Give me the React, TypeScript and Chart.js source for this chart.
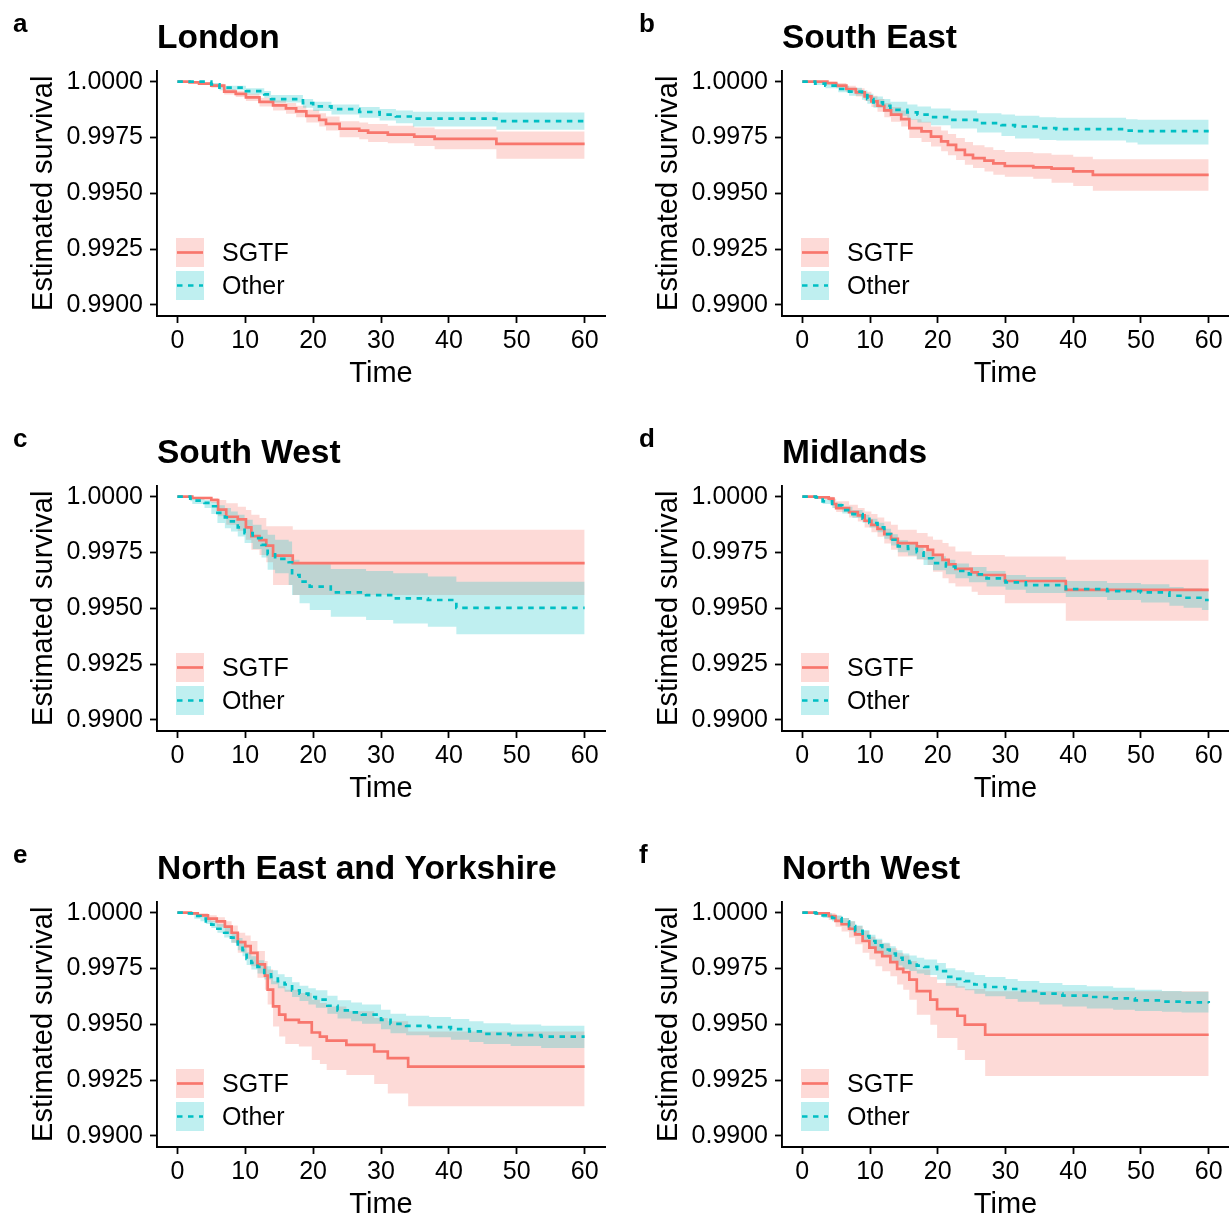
import React, { useEffect, useRef } from "react";
import { Chart, registerables } from "chart.js";

Chart.register(...registerables);

const FONT = '"Liberation Sans", Arial, Helvetica, sans-serif';
const RED = "#F8766D";
const CYAN = "#00BFC4";
const RED_FILL = "rgba(248,118,109,0.27)";
const CYAN_FILL = "rgba(0,191,196,0.25)";

const X_TICKS = [0, 10, 20, 30, 40, 50, 60];
const Y_TICKS = [0.99, 0.9925, 0.995, 0.9975, 1.0];
const GROUPS = ["SGTF", "Other"];
const PANEL_TITLES = ["London", "South East", "South West", "Midlands", "North East and Yorkshire", "North West"];
const PANEL_LETTERS = ["a", "b", "c", "d", "e", "f"];
const X_TITLE = "Time";
const Y_TITLE = "Estimated survival";

// a: London
const A_SGTF_T = [0, 1.8, 3.2, 5.0, 6.9, 8.6, 10.1, 12.1, 14.1, 16.0, 17.5, 19.0, 20.9, 21.9, 23.9, 26.8, 28.1, 31.0, 34.9, 37.9, 47.0, 60];
const A_SGTF_S = [1, 0.99997, 0.99991, 0.99982, 0.99955, 0.99945, 0.9993, 0.99909, 0.99894, 0.9988, 0.99867, 0.99847, 0.99829, 0.99811, 0.99789, 0.99781, 0.99772, 0.99763, 0.99754, 0.99744, 0.99721, 0.99721];
const A_SGTF_HI = [1, 1, 0.99997, 0.99991, 0.99967, 0.99958, 0.99946, 0.99928, 0.99916, 0.99904, 0.99892, 0.99874, 0.99859, 0.99844, 0.99823, 0.99817, 0.9981, 0.99802, 0.99795, 0.99787, 0.99777, 0.99777];
const A_SGTF_LO = [1, 0.99994, 0.99985, 0.99973, 0.99943, 0.99931, 0.99913, 0.99889, 0.99871, 0.99856, 0.99841, 0.99817, 0.99799, 0.99781, 0.99751, 0.99742, 0.9973, 0.99724, 0.99712, 0.99697, 0.99655, 0.99655];
const A_OTH_T = [0, 5.0, 6.2, 10.1, 12.8, 13.8, 18.5, 20.0, 22.7, 26.8, 29.8, 32.2, 34.7, 47.0, 60];
const A_OTH_S = [1, 0.99988, 0.99973, 0.99958, 0.99943, 0.99922, 0.99904, 0.99889, 0.99877, 0.99864, 0.99852, 0.99844, 0.99834, 0.99823, 0.99823];
const A_OTH_HI = [1, 0.99994, 0.99982, 0.9997, 0.99958, 0.9994, 0.99922, 0.9991, 0.99898, 0.99886, 0.99877, 0.99871, 0.99865, 0.99862, 0.99862];
const A_OTH_LO = [1, 0.99979, 0.99961, 0.99943, 0.99928, 0.99907, 0.99883, 0.99868, 0.99853, 0.99838, 0.99826, 0.99814, 0.99799, 0.99784, 0.99784];

// b: South East
const B_SGTF_T = [0, 2.0, 3.7, 5.0, 6.5, 7.9, 9.2, 10.2, 11.1, 12.1, 13.1, 14.6, 15.8, 17.6, 19.0, 20.5, 21.5, 22.7, 24.0, 25.2, 26.9, 28.2, 29.9, 34.1, 36.8, 40.0, 42.9, 60];
const B_SGTF_S = [1, 1, 0.99994, 0.99982, 0.99967, 0.99952, 0.99934, 0.99912, 0.99892, 0.99871, 0.99852, 0.99832, 0.99792, 0.99777, 0.99754, 0.99732, 0.99717, 0.99694, 0.99672, 0.99657, 0.99646, 0.99634, 0.99622, 0.99616, 0.9961, 0.99598, 0.99582, 0.99582];
const B_SGTF_HI = [1, 1, 1, 0.99994, 0.99982, 0.9997, 0.99955, 0.99937, 0.99922, 0.99904, 0.99886, 0.99871, 0.99832, 0.9982, 0.99799, 0.99781, 0.99766, 0.99748, 0.9973, 0.99715, 0.99706, 0.99694, 0.99685, 0.99679, 0.99673, 0.99664, 0.99652, 0.99652];
const B_SGTF_LO = [1, 0.99997, 0.99985, 0.9997, 0.99952, 0.99934, 0.99913, 0.99886, 0.99865, 0.99841, 0.9982, 0.99799, 0.99748, 0.9973, 0.99709, 0.99688, 0.9967, 0.99649, 0.99628, 0.99613, 0.99598, 0.99583, 0.99574, 0.99565, 0.99547, 0.99532, 0.99511, 0.99511];
const B_OTH_T = [0, 1.9, 3.4, 5.3, 6.9, 8.8, 9.6, 10.5, 11.9, 13.0, 15.5, 17.0, 19.0, 21.9, 25.8, 29.4, 31.4, 35.0, 37.5, 47.8, 49.5, 60];
const B_OTH_S = [1, 0.99991, 0.99982, 0.99967, 0.99955, 0.9994, 0.99922, 0.99907, 0.99892, 0.99874, 0.99862, 0.99852, 0.99841, 0.99829, 0.99814, 0.99805, 0.99799, 0.99792, 0.99787, 0.99781, 0.99778, 0.99778];
const B_OTH_HI = [1, 1, 0.99994, 0.99982, 0.99973, 0.99961, 0.99946, 0.99934, 0.99922, 0.9991, 0.99898, 0.99889, 0.9988, 0.99871, 0.99859, 0.99853, 0.99847, 0.99841, 0.99838, 0.99832, 0.99829, 0.99829];
const B_OTH_LO = [1, 0.99985, 0.9997, 0.99952, 0.99937, 0.99919, 0.99901, 0.99883, 0.99865, 0.99847, 0.99829, 0.99817, 0.99805, 0.9979, 0.99772, 0.99757, 0.99745, 0.99739, 0.99736, 0.99727, 0.99718, 0.99718];

// c: South West
const C_SGTF_T = [0, 2.2, 5.0, 6.0, 7.2, 8.9, 10.1, 10.9, 12.1, 13.1, 14.1, 17.0, 60];
const C_SGTF_S = [1, 0.99994, 0.99985, 0.99942, 0.9991, 0.99898, 0.99862, 0.99823, 0.99805, 0.99781, 0.99736, 0.99702, 0.99702];
const C_SGTF_HI = [1, 1, 0.99994, 0.99985, 0.9997, 0.99955, 0.9994, 0.99919, 0.99904, 0.99867, 0.99867, 0.99852, 0.99852];
const C_SGTF_LO = [1, 0.99988, 0.99973, 0.99912, 0.99874, 0.99847, 0.99807, 0.99762, 0.99739, 0.99706, 0.99604, 0.99559, 0.99559];
const C_OTH_T = [0, 1.9, 2.2, 4.0, 5.0, 5.9, 7.0, 7.9, 8.9, 9.9, 11.1, 12.4, 13.3, 14.4, 16.4, 16.9, 18.0, 19.5, 22.6, 27.8, 31.8, 36.9, 41.1, 60];
const C_OTH_S = [1, 0.99991, 0.99982, 0.99972, 0.99957, 0.99927, 0.99907, 0.99889, 0.99862, 0.99837, 0.99814, 0.99784, 0.99742, 0.99721, 0.99706, 0.99649, 0.99619, 0.99597, 0.99571, 0.99559, 0.99544, 0.99537, 0.99502, 0.99502];
const C_OTH_HI = [1, 0.99997, 0.99991, 0.99985, 0.99976, 0.99961, 0.99949, 0.99934, 0.99919, 0.99897, 0.99874, 0.99852, 0.99829, 0.99807, 0.99799, 0.99717, 0.99706, 0.99697, 0.99676, 0.99667, 0.99657, 0.99642, 0.99619, 0.99619];
const C_OTH_LO = [1, 0.99979, 0.99967, 0.99949, 0.99922, 0.99882, 0.99859, 0.99844, 0.99822, 0.99792, 0.99766, 0.99727, 0.99672, 0.99657, 0.99604, 0.99559, 0.99522, 0.99492, 0.99462, 0.99447, 0.99432, 0.99417, 0.99384, 0.99384];

// d: Midlands
const D_SGTF_T = [0, 2.0, 3.9, 4.6, 5.0, 6.9, 8.2, 9.2, 10.2, 11.1, 12.1, 13.1, 14.1, 16.9, 18.5, 19.3, 20.7, 21.6, 22.6, 25.0, 25.9, 29.9, 38.9, 60];
const D_SGTF_S = [1, 0.99997, 0.99991, 0.99967, 0.99949, 0.99931, 0.99916, 0.99892, 0.99874, 0.99856, 0.99832, 0.99811, 0.99792, 0.99777, 0.99762, 0.99739, 0.99717, 0.99697, 0.99676, 0.99661, 0.99649, 0.99622, 0.99582, 0.99582];
const D_SGTF_HI = [1, 1, 1, 0.99991, 0.99979, 0.99964, 0.99949, 0.99934, 0.99922, 0.99907, 0.99889, 0.99874, 0.99852, 0.99837, 0.99822, 0.99807, 0.99792, 0.99777, 0.99754, 0.99739, 0.99739, 0.99732, 0.99717, 0.99717];
const D_SGTF_LO = [1, 0.99994, 0.99979, 0.99949, 0.99931, 0.99907, 0.99889, 0.99862, 0.99841, 0.9982, 0.9979, 0.99762, 0.99732, 0.99717, 0.99694, 0.99664, 0.99634, 0.99612, 0.99597, 0.99574, 0.99559, 0.99522, 0.99444, 0.99444];
const D_OTH_T = [0, 2.0, 3.0, 4.4, 5.9, 7.4, 8.9, 9.9, 11.1, 12.1, 13.1, 14.1, 15.6, 16.9, 17.9, 19.3, 21.2, 22.6, 24.6, 27.2, 30.0, 33.0, 38.9, 45.0, 50.0, 54.2, 56.3, 59.0, 60];
const D_OTH_S = [1, 0.99997, 0.99979, 0.99961, 0.9994, 0.99922, 0.99901, 0.99882, 0.99862, 0.99832, 0.99807, 0.99777, 0.99766, 0.99751, 0.99724, 0.99702, 0.99687, 0.99667, 0.99652, 0.99634, 0.99616, 0.99604, 0.99586, 0.99577, 0.99571, 0.99556, 0.99547, 0.99537, 0.99537];
const D_OTH_HI = [1, 1, 0.99991, 0.99973, 0.99955, 0.9994, 0.99919, 0.99901, 0.99883, 0.99856, 0.99832, 0.99805, 0.99793, 0.99778, 0.99754, 0.99733, 0.99717, 0.997, 0.99685, 0.99667, 0.99649, 0.9964, 0.99622, 0.99613, 0.99607, 0.99595, 0.99589, 0.99582, 0.99582];
const D_OTH_LO = [1, 0.99991, 0.99967, 0.99949, 0.99925, 0.99904, 0.99883, 0.99862, 0.99841, 0.99811, 0.99781, 0.99751, 0.99736, 0.99721, 0.99694, 0.9967, 0.99652, 0.99634, 0.99616, 0.99598, 0.99583, 0.99568, 0.9955, 0.99537, 0.99526, 0.99511, 0.99502, 0.99492, 0.99492];

// e: North East and Yorkshire
const E_SGTF_T = [0, 2.0, 3.0, 4.5, 5.8, 7.0, 8.0, 8.9, 10.0, 10.8, 11.8, 12.9, 13.3, 14.1, 15.0, 15.9, 17.9, 19.8, 21.0, 22.0, 24.9, 29.0, 31.0, 34.0, 60];
const E_SGTF_S = [1, 0.99997, 0.99988, 0.99973, 0.99961, 0.99937, 0.9991, 0.99868, 0.9985, 0.9982, 0.99768, 0.99718, 0.99655, 0.9958, 0.99543, 0.9952, 0.99508, 0.99463, 0.99445, 0.99427, 0.99408, 0.99378, 0.99348, 0.9931, 0.9931];
const E_SGTF_HI = [1, 1, 0.99997, 0.99988, 0.99979, 0.99961, 0.99943, 0.9991, 0.99898, 0.99873, 0.99828, 0.99783, 0.99745, 0.99693, 0.9967, 0.99655, 0.9964, 0.9961, 0.99595, 0.9958, 0.99558, 0.99528, 0.99513, 0.99468, 0.99468];
const E_SGTF_LO = [1, 0.99991, 0.99979, 0.99958, 0.99937, 0.99907, 0.99865, 0.9982, 0.99793, 0.9976, 0.99708, 0.99655, 0.99588, 0.9949, 0.99445, 0.99412, 0.994, 0.9934, 0.99322, 0.99295, 0.99273, 0.99232, 0.9919, 0.99133, 0.99133];
const E_OTH_T = [0, 1.5, 2.5, 3.4, 4.2, 5.0, 5.9, 6.9, 7.9, 8.9, 9.6, 10.2, 10.9, 11.8, 12.8, 13.8, 14.8, 15.8, 16.9, 18.0, 19.3, 20.4, 22.1, 23.6, 25.6, 27.2, 30.0, 31.4, 33.7, 37.1, 40.3, 43.0, 45.1, 49.1, 53.6, 60];
const E_OTH_S = [1, 0.99997, 0.99985, 0.99973, 0.99961, 0.99946, 0.99928, 0.9991, 0.99888, 0.99858, 0.99832, 0.99793, 0.99775, 0.99757, 0.9973, 0.99712, 0.99693, 0.99678, 0.99652, 0.99637, 0.99622, 0.9961, 0.99583, 0.99562, 0.99553, 0.99543, 0.9952, 0.99502, 0.99493, 0.99487, 0.99478, 0.99468, 0.99457, 0.99451, 0.99445, 0.99445];
const E_OTH_HI = [1, 1, 0.99994, 0.99985, 0.99976, 0.99964, 0.99949, 0.99934, 0.99913, 0.99886, 0.99862, 0.99823, 0.99805, 0.99787, 0.9976, 0.99742, 0.99724, 0.99712, 0.99688, 0.99673, 0.99661, 0.99652, 0.99628, 0.99607, 0.99598, 0.99589, 0.99565, 0.99547, 0.99538, 0.99532, 0.99523, 0.99514, 0.99505, 0.99499, 0.99493, 0.99487];
const E_OTH_LO = [1, 0.99991, 0.99973, 0.99961, 0.99949, 0.99931, 0.9991, 0.99889, 0.99865, 0.99832, 0.99805, 0.99766, 0.99745, 0.99727, 0.997, 0.99679, 0.99661, 0.99646, 0.99622, 0.99604, 0.99589, 0.99574, 0.99547, 0.99526, 0.99514, 0.99502, 0.99478, 0.9946, 0.99451, 0.99442, 0.9943, 0.99421, 0.99412, 0.99403, 0.99394, 0.99391];

// f: North West
const F_SGTF_T = [0, 2.0, 3.9, 4.9, 5.8, 6.9, 7.8, 8.9, 9.9, 10.8, 11.8, 13.0, 14.0, 14.9, 15.8, 16.9, 18.9, 19.9, 22.9, 24.0, 27.0, 60];
const F_SGTF_S = [1, 0.99997, 0.99985, 0.99963, 0.99948, 0.99928, 0.99903, 0.99873, 0.99843, 0.99823, 0.99805, 0.99778, 0.99748, 0.99733, 0.997, 0.99648, 0.9961, 0.99568, 0.99538, 0.99498, 0.99453, 0.99453];
const F_SGTF_HI = [1, 1, 0.99997, 0.99985, 0.99976, 0.99961, 0.9994, 0.99918, 0.99892, 0.99877, 0.99862, 0.99841, 0.9982, 0.99808, 0.99783, 0.99745, 0.99712, 0.99685, 0.9967, 0.99658, 0.99648, 0.99648];
const F_SGTF_LO = [1, 0.99991, 0.99967, 0.99937, 0.99916, 0.99889, 0.99858, 0.9982, 0.9979, 0.9976, 0.99738, 0.99715, 0.99678, 0.99655, 0.9961, 0.99543, 0.99498, 0.99438, 0.99385, 0.9934, 0.99268, 0.99268];
const F_OTH_T = [0, 2.0, 3.0, 4.4, 5.8, 6.9, 7.8, 8.9, 9.9, 10.8, 11.8, 12.9, 13.8, 14.8, 15.8, 16.9, 18.0, 19.9, 21.2, 22.6, 24.0, 25.4, 27.0, 30.0, 31.8, 35.0, 38.4, 42.0, 45.9, 49.1, 53.1, 56.0, 60];
const F_OTH_S = [1, 0.99997, 0.99988, 0.99976, 0.99961, 0.9994, 0.99918, 0.99895, 0.99873, 0.99853, 0.99835, 0.99817, 0.99798, 0.99783, 0.99775, 0.99763, 0.99757, 0.99738, 0.99712, 0.99703, 0.99693, 0.99678, 0.99667, 0.99658, 0.99648, 0.99637, 0.99628, 0.99622, 0.99616, 0.99607, 0.99601, 0.99598, 0.99595];
const F_OTH_HI = [1, 1, 0.99997, 0.99988, 0.99976, 0.99961, 0.99943, 0.99922, 0.99901, 0.99883, 0.99865, 0.9985, 0.99832, 0.99817, 0.99808, 0.99798, 0.9979, 0.99775, 0.99751, 0.99742, 0.99733, 0.99721, 0.99712, 0.99703, 0.99694, 0.99685, 0.99676, 0.9967, 0.99664, 0.99655, 0.99649, 0.99646, 0.99643];
const F_OTH_LO = [1, 0.99991, 0.99976, 0.99961, 0.99943, 0.99919, 0.99895, 0.99871, 0.99847, 0.99823, 0.99805, 0.99784, 0.99763, 0.99748, 0.99739, 0.99727, 0.99721, 0.997, 0.99673, 0.99664, 0.99652, 0.99637, 0.99625, 0.99613, 0.99601, 0.99589, 0.9958, 0.99571, 0.99565, 0.99559, 0.99556, 0.99553, 0.99553];

type Curve = { t: number[]; s: number[]; hi: number[]; lo: number[] };
type PanelData = { title: string; letter: string; sgtf: Curve; other: Curve };

const PANELS: PanelData[] = [
  { sgtf: { t: A_SGTF_T, s: A_SGTF_S, hi: A_SGTF_HI, lo: A_SGTF_LO }, other: { t: A_OTH_T, s: A_OTH_S, hi: A_OTH_HI, lo: A_OTH_LO } },
  { sgtf: { t: B_SGTF_T, s: B_SGTF_S, hi: B_SGTF_HI, lo: B_SGTF_LO }, other: { t: B_OTH_T, s: B_OTH_S, hi: B_OTH_HI, lo: B_OTH_LO } },
  { sgtf: { t: C_SGTF_T, s: C_SGTF_S, hi: C_SGTF_HI, lo: C_SGTF_LO }, other: { t: C_OTH_T, s: C_OTH_S, hi: C_OTH_HI, lo: C_OTH_LO } },
  { sgtf: { t: D_SGTF_T, s: D_SGTF_S, hi: D_SGTF_HI, lo: D_SGTF_LO }, other: { t: D_OTH_T, s: D_OTH_S, hi: D_OTH_HI, lo: D_OTH_LO } },
  { sgtf: { t: E_SGTF_T, s: E_SGTF_S, hi: E_SGTF_HI, lo: E_SGTF_LO }, other: { t: E_OTH_T, s: E_OTH_S, hi: E_OTH_HI, lo: E_OTH_LO } },
  { sgtf: { t: F_SGTF_T, s: F_SGTF_S, hi: F_SGTF_HI, lo: F_SGTF_LO }, other: { t: F_OTH_T, s: F_OTH_S, hi: F_OTH_HI, lo: F_OTH_LO } },
].map((p, i) => ({ ...p, title: PANEL_TITLES[i], letter: PANEL_LETTERS[i] }));

const pts = (t: number[], v: number[]) => t.map((x, i) => ({ x, y: v[i] }));

const LINE_W = 2.7;
const DASH = [5.5, 5.5];

const insideLegend = {
  id: "insideLegend",
  afterDraw(chart: any) {
    const { ctx, chartArea } = chart;
    const items = [
      { label: GROUPS[0], line: RED, fill: RED_FILL, dash: [] as number[], top: chartArea.bottom - 78 },
      { label: GROUPS[1], line: CYAN, fill: CYAN_FILL, dash: DASH, top: chartArea.bottom - 45 },
    ];
    const kx = chartArea.left + 19;
    ctx.save();
    for (const it of items) {
      ctx.fillStyle = it.fill;
      ctx.fillRect(kx, it.top, 28, 29);
      ctx.strokeStyle = it.line;
      ctx.lineWidth = LINE_W;
      ctx.setLineDash(it.dash);
      ctx.beginPath();
      ctx.moveTo(kx + 1, it.top + 14.5);
      ctx.lineTo(kx + 27, it.top + 14.5);
      ctx.stroke();
      ctx.setLineDash([]);
      ctx.fillStyle = "#000";
      ctx.font = `25px ${FONT}`;
      ctx.textBaseline = "middle";
      ctx.textAlign = "left";
      ctx.fillText(it.label, chartArea.left + 65, it.top + 16);
    }
    ctx.restore();
  },
};

function Panel({ p, width, rightPad }: { p: PanelData; width: number; rightPad: number }) {
  const ref = useRef<HTMLCanvasElement>(null);
  useEffect(() => {
    if (!ref.current) return;
    const band = { borderWidth: 0, borderColor: "rgba(0,0,0,0)", pointRadius: 0, stepped: "before" as const, tension: 0 };
    const chart = new Chart(ref.current, {
      type: "line",
      data: {
        datasets: [
          { ...band, label: "SGTF upper", data: pts(p.sgtf.t, p.sgtf.hi), backgroundColor: RED_FILL, fill: "+1", order: 5 },
          { ...band, label: "SGTF lower", data: pts(p.sgtf.t, p.sgtf.lo), fill: false, order: 5 },
          { ...band, label: "Other upper", data: pts(p.other.t, p.other.hi), backgroundColor: CYAN_FILL, fill: "+1", order: 4 },
          { ...band, label: "Other lower", data: pts(p.other.t, p.other.lo), fill: false, order: 4 },
          { label: GROUPS[0], data: pts(p.sgtf.t, p.sgtf.s), borderColor: RED, borderWidth: LINE_W, pointRadius: 0, stepped: "before", fill: false, order: 1 },
          { label: GROUPS[1], data: pts(p.other.t, p.other.s), borderColor: CYAN, borderWidth: LINE_W, borderDash: DASH, pointRadius: 0, stepped: "before", fill: false, order: 0 },
        ] as any,
      },
      options: {
        responsive: false,
        animation: false,
        devicePixelRatio: 1,
        layout: { padding: { left: 0, right: rightPad, top: 0, bottom: 0 } },
        plugins: {
          legend: { display: false },
          tooltip: { enabled: false },
          filler: { drawTime: "beforeDatasetsDraw" },
          title: {
            display: true,
            text: p.title,
            align: "start",
            fullSize: false,
            color: "#000",
            font: { family: FONT, size: 33.5, weight: "bold" },
            padding: { top: 18.5, bottom: 11.8 },
          },
        },
        scales: {
          x: {
            type: "linear",
            min: -3,
            max: 63,
            afterBuildTicks: (s: any) => { s.ticks = X_TICKS.map((v) => ({ value: v })); },
            afterFit: (s: any) => { s.height = 100; },
            grid: { display: true, drawOnChartArea: false, drawTicks: true, tickLength: 7, tickWidth: 1.8, tickColor: "#000", color: "#000" },
            border: { display: true, color: "#000", width: 1.9 },
            ticks: { color: "#000", font: { family: FONT, size: 25 }, padding: 3, maxRotation: 0, autoSkip: false },
            title: { display: true, text: X_TITLE, color: "#000", font: { family: FONT, size: 29 }, padding: { top: 0, bottom: 25 } },
          },
          y: {
            type: "linear",
            min: 0.9895,
            max: 1.0005,
            afterBuildTicks: (s: any) => { s.ticks = Y_TICKS.map((v) => ({ value: v })); },
            afterFit: (s: any) => { s.width = 157; },
            grid: { display: true, drawOnChartArea: false, drawTicks: true, tickLength: 7, tickWidth: 1.8, tickColor: "#000", color: "#000" },
            border: { display: true, color: "#000", width: 1.9 },
            ticks: { color: "#000", font: { family: FONT, size: 25 }, padding: 7, autoSkip: false, callback: (v: any) => Number(v).toFixed(4) },
            title: { display: true, text: Y_TITLE, color: "#000", font: { family: FONT, size: 29 }, padding: { top: 26.6, bottom: 0 } },
          },
        },
      } as any,
      plugins: [insideLegend],
    });
    return () => chart.destroy();
  }, [p, rightPad]);
  return <canvas ref={ref} width={width} height={416} style={{ display: "block", width, height: 416 }} />;
}

const COL_LEFT = [0, 625];
const COL_WIDTH = [614, 604];
const COL_RPAD = [9, 0];
const ROW_TOP = [0, 415, 831];
const LETTER_LEFT = [13, 639];

export default function App() {
  return (
    <div style={{ position: "absolute", left: 0, top: 0, width: 1229, height: 1219, overflow: "hidden", background: "#fff" }}>
      {PANELS.map((p, i) => {
        const col = i % 2;
        const row = Math.floor(i / 2);
        return (
          <React.Fragment key={p.letter}>
            <div style={{ position: "absolute", left: COL_LEFT[col], top: ROW_TOP[row] }}>
              <Panel p={p} width={COL_WIDTH[col]} rightPad={COL_RPAD[col]} />
            </div>
            <div
              style={{
                position: "absolute",
                left: LETTER_LEFT[col],
                top: ROW_TOP[row] + 9.5,
                font: `bold 26px ${FONT}`,
                lineHeight: "26px",
                color: "#000",
              }}
            >
              {p.letter}
            </div>
          </React.Fragment>
        );
      })}
    </div>
  );
}
